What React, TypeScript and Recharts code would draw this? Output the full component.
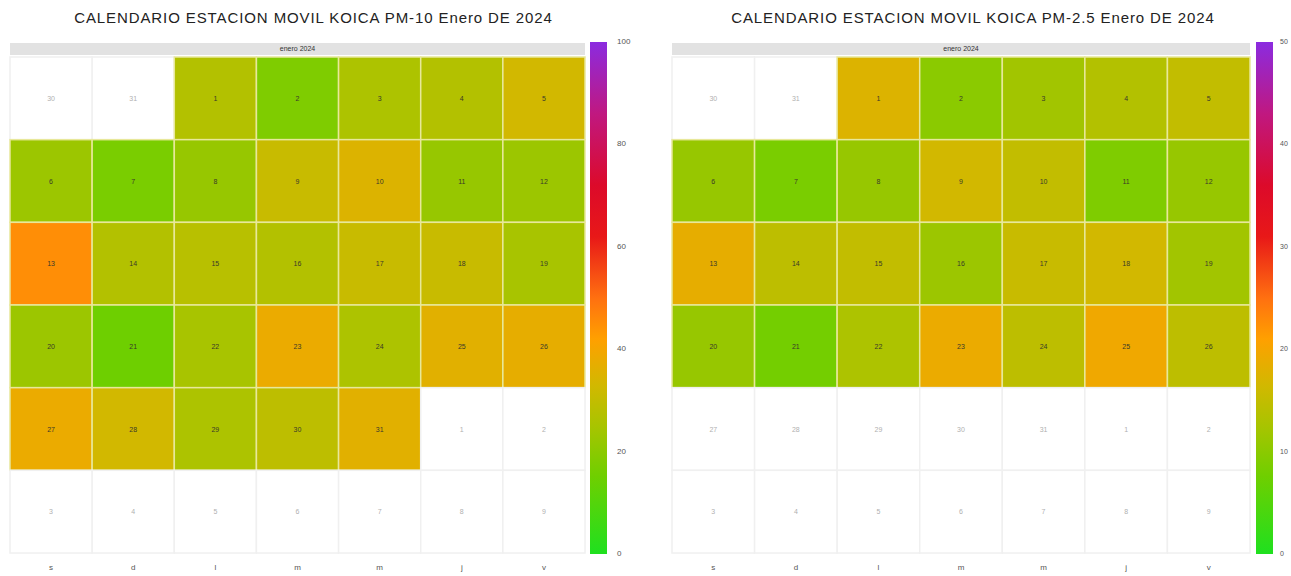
import { Scatter, ScatterChart, XAxis, YAxis } from "recharts";

const DAY_LABELS = ["s", "d", "l", "m", "m", "j", "v"];
const MONTH_LABEL = "enero 2024";
const TITLE_PM10 = "CALENDARIO ESTACION MOVIL KOICA PM-10 Enero DE 2024";
const TITLE_PM25 = "CALENDARIO ESTACION MOVIL KOICA PM-2.5 Enero DE 2024";

// daily means, January 2024 (null = no data)
const PM10_VALUES = [
  27, 18, 26, 27, 33, 23, 17, 22, 31, 35, 22, 23, 45, 27, 28, 27, 31, 31, 25, 23,
  15, 25, 38, 26, 36, 37, 38, 33, 26, 29, 36,
];
const PM25_VALUES = [
  17.5, 10, 12, 13.5, 15, 11, 8.5, 11, 16.5, 15, 9, 11, 18.5, 14.5, 15, 11.5, 15.5,
  16.5, 12, 11, 8, 13, 19, 14.5, 19.5, 14.5, null, null, null, null, null,
];
const PM10_TICKS = [0, 20, 40, 60, 80, 100];
const PM25_TICKS = [0, 10, 20, 30, 40, 50];

const SCALE_STOPS: [number, string][] = [
  [0, "#1fe01f"],
  [0.15, "#6ecf00"],
  [0.25, "#a8c400"],
  [0.33, "#d2b800"],
  [0.42, "#ffa000"],
  [0.5, "#ff7010"],
  [0.62, "#e81818"],
  [0.72, "#dc0a2a"],
  [0.86, "#c01880"],
  [1, "#8b2be0"],
];

const hexToRgb = (h: string) => [1, 3, 5].map((i) => parseInt(h.slice(i, i + 2), 16));

const colorAt = (t: number) => {
  const v = Math.max(0, Math.min(1, t));
  for (let i = 1; i < SCALE_STOPS.length; i++) {
    const [t1, c1] = SCALE_STOPS[i];
    const [t0, c0] = SCALE_STOPS[i - 1];
    if (v <= t1) {
      const f = (v - t0) / (t1 - t0);
      const a = hexToRgb(c0);
      const b = hexToRgb(c1);
      return `rgb(${a.map((x, k) => Math.round(x + (b[k] - x) * f)).join(",")})`;
    }
  }
  return SCALE_STOPS[SCALE_STOPS.length - 1][1];
};

const buildCells = (values: (number | null)[]) => {
  const first = new Date(2024, 0, 1);
  const offset = (first.getDay() + 1) % 7; // weeks start on Saturday
  const cells = [];
  for (let i = 0; i < 42; i++) {
    const d = new Date(2024, 0, 1 - offset + i);
    const inMonth = d.getMonth() === 0;
    cells.push({
      col: i % 7,
      row: Math.floor(i / 7),
      day: d.getDate(),
      value: inMonth ? values[d.getDate() - 1] : null,
    });
  }
  return cells;
};

const CHART_H = 576;
const TOP = 57;
const AXIS_H = 23;
const CELL_H = (CHART_H - TOP - AXIS_H) / 6;

interface PanelProps {
  left: number;
  width: number;
  plotLeft: number;
  plotRight: number;
  title: string;
  titleShift: number;
  values: (number | null)[];
  max: number;
  ticks: number[];
  barLeft: number;
  labelLeft: number;
  labelSize: number;
}

const Panel = ({ left, width, plotLeft, plotRight, title, titleShift, values, max, ticks, barLeft, labelLeft, labelSize }: PanelProps) => {
  const cells = buildCells(values);
  const cellW = (width - plotLeft - plotRight) / 7;
  const barTop = 42;
  const barBottom = 554;
  const gradient = SCALE_STOPS.map(([t, c]) => `${c} ${t * 100}%`).join(", ");

  const CellShape = (p: any) => {
    const { cx, cy, payload } = p;
    const has = payload.value != null;
    return (
      <g>
        <rect
          x={cx - cellW / 2}
          y={cy - CELL_H / 2}
          width={cellW}
          height={CELL_H}
          fill={has ? colorAt(payload.value / max) : "#ffffff"}
          stroke={has ? "#e8e89a" : "#f0f0f0"}
          strokeWidth={1.5}
        />
        <text x={cx} y={cy + 2.5} textAnchor="middle" fontSize={7} fill={has ? "#3a3a2a" : "#b0b0b0"}>
          {payload.day}
        </text>
      </g>
    );
  };

  return (
    <div style={{ position: "absolute", left, top: 0, width, height: CHART_H }}>
      <div
        style={{
          position: "absolute",
          left: plotLeft - 20 + titleShift,
          top: 9,
          width: width - plotLeft - plotRight + 40,
          textAlign: "center",
          fontSize: 15,
          color: "#222",
          whiteSpace: "nowrap",
          letterSpacing: 0.9,
        }}
      >
        {title}
      </div>
      <div
        style={{
          position: "absolute",
          left: plotLeft,
          top: 43,
          width: width - plotLeft - plotRight,
          height: 12,
          background: "#e2e2e2",
          fontSize: 7,
          lineHeight: "12px",
          textAlign: "center",
          color: "#333",
        }}
      >
        {MONTH_LABEL}
      </div>
      <ScatterChart width={width} height={CHART_H} margin={{ top: TOP, right: plotRight, bottom: 0, left: plotLeft }}>
        <XAxis
          dataKey="col"
          type="number"
          domain={[-0.5, 6.5]}
          ticks={[0, 1, 2, 3, 4, 5, 6]}
          height={AXIS_H}
          axisLine={false}
          tickLine={false}
          tickSize={0}
          tickMargin={0}
          tick={(t: any) => (
            <text x={t.x} y={t.y + 17} textAnchor="middle" fontSize={8} fill="#555">
              {DAY_LABELS[t.payload.value]}
            </text>
          )}
        />
        <YAxis dataKey="row" type="number" domain={[-0.5, 5.5]} reversed hide />
        <Scatter data={cells} shape={CellShape} isAnimationActive={false} />
      </ScatterChart>
      <div
        style={{
          position: "absolute",
          left: barLeft,
          top: barTop,
          width: 17,
          height: barBottom - barTop,
          background: `linear-gradient(to top, ${gradient})`,
        }}
      />
      {ticks.map((tk) => (
        <div
          key={tk}
          style={{
            position: "absolute",
            left: labelLeft,
            top: barBottom - (tk / max) * (barBottom - barTop) - 5,
            fontSize: labelSize,
            lineHeight: "10px",
            color: "#555",
            whiteSpace: "nowrap",
          }}
        >
          {tk}
        </div>
      ))}
    </div>
  );
}

export default function App() {
  return (
    <div
      style={{
        position: "absolute",
        left: 0,
        top: 0,
        width: 1291,
        height: 576,
        overflow: "hidden",
        background: "#ffffff",
        fontFamily: "'Liberation Sans', Arial, sans-serif",
      }}
    >
      <Panel
        left={0}
        width={645}
        plotLeft={10}
        plotRight={60}
        title={TITLE_PM10}
        titleShift={16}
        values={PM10_VALUES}
        max={100}
        ticks={PM10_TICKS}
        barLeft={590}
        labelLeft={617}
        labelSize={8}
      />
      <Panel
        left={645}
        width={646}
        plotLeft={27}
        plotRight={41}
        title={TITLE_PM25}
        titleShift={12}
        values={PM25_VALUES}
        max={50}
        ticks={PM25_TICKS}
        barLeft={611}
        labelLeft={635}
        labelSize={7}
      />
    </div>
  );
}
